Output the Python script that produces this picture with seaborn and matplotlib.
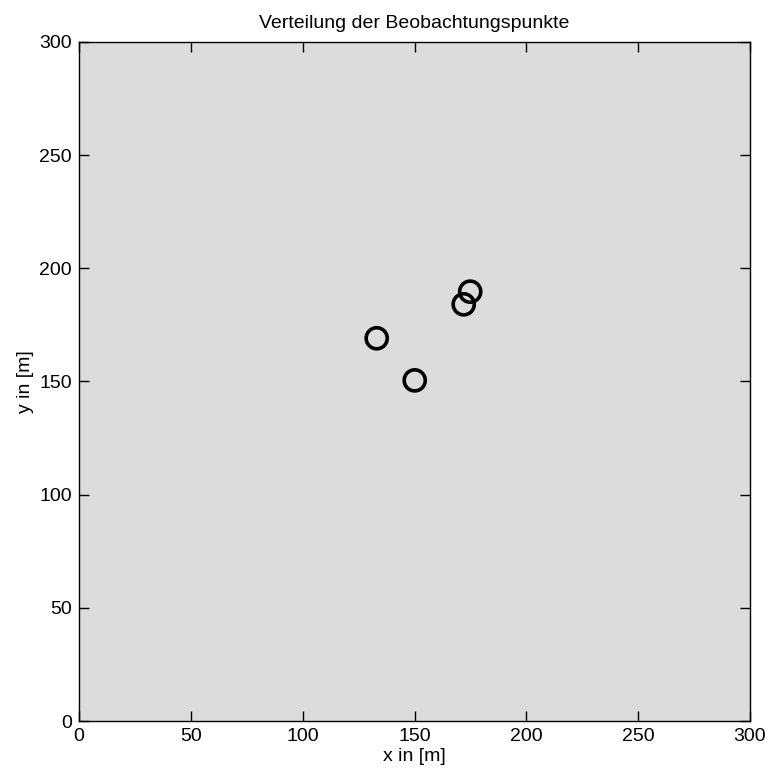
import matplotlib
matplotlib.use("Agg")
import matplotlib.pyplot as plt
import seaborn as sns
import pandas as pd

# Observation point coordinates in metres
x_m = [133.1, 150.1, 172.0, 174.9]
y_m = [169.1, 150.5, 184.1, 189.7]

x_ticks = [0, 50, 100, 150, 200, 250, 300]
y_ticks = [0, 50, 100, 150, 200, 250, 300]

sns.set_theme(style="white")
plt.rcParams["font.family"] = ["Liberation Sans", "DejaVu Sans"]

df = pd.DataFrame({"x": x_m, "y": y_m})

fig = plt.figure(figsize=(7.67, 7.74), dpi=100)
ax = fig.add_axes([79 / 767, 1 - 721 / 774, 671 / 767, 679 / 774])
ax.set_facecolor("#dcdcdc")

sns.scatterplot(data=df, x="x", y="y", ax=ax, marker="o", s=230,
                facecolors="none", edgecolor="black", linewidth=2.6)

ax.set_xlim(0, 300)
ax.set_ylim(0, 300)
ax.set_xticks(x_ticks)
ax.set_yticks(y_ticks)
ax.tick_params(direction="in", length=7, width=1, color="black",
               top=True, right=True, bottom=True, left=True,
               labelsize=14, labelcolor="black", pad=5)
for s in ax.spines.values():
    s.set_visible(True)
    s.set_color("black")
    s.set_linewidth(1)

ax.set_xlabel("x in [m]", fontsize=14, color="black", labelpad=2)
ax.set_ylabel("y in [m]", fontsize=14, color="black", labelpad=4)
ax.set_title("Verteilung der Beobachtungspunkte", fontsize=14, color="black", pad=10)

fig.savefig("out.png", dpi=100, facecolor="white")
